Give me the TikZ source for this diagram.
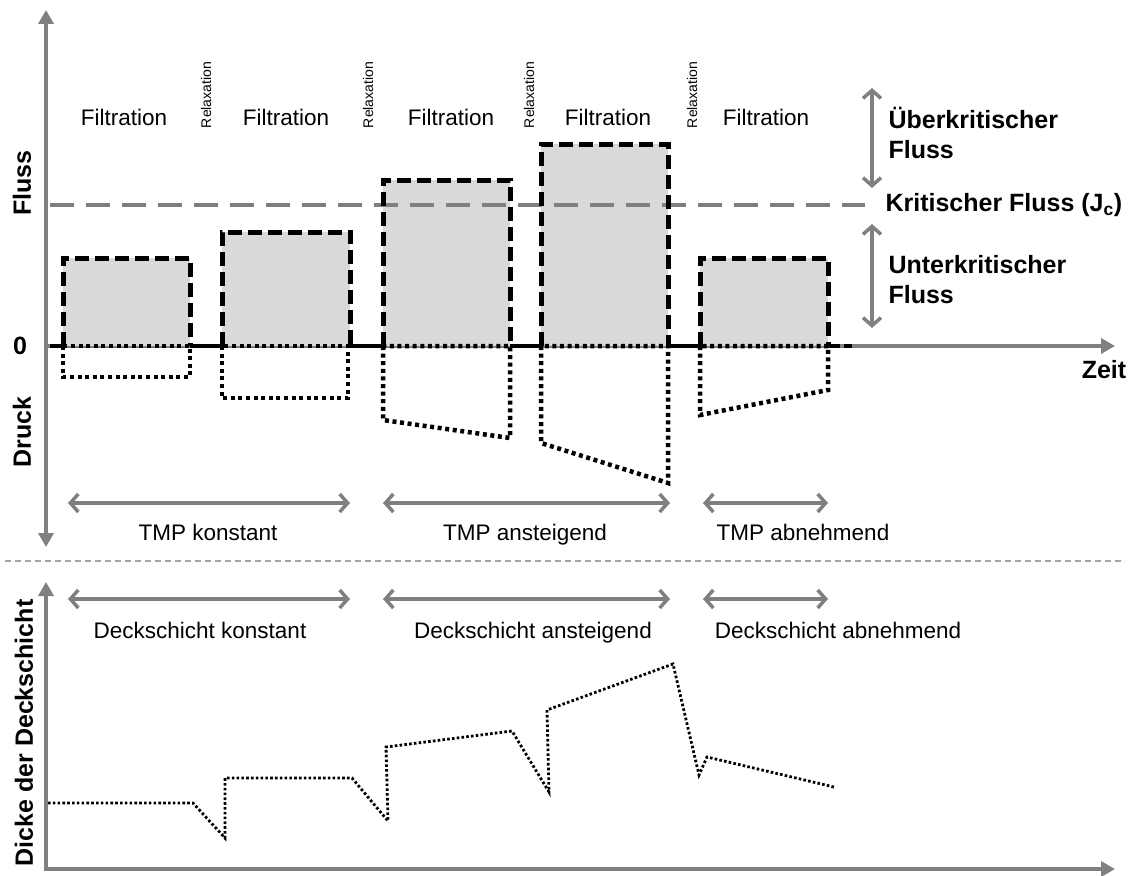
\documentclass[tikz,border=0pt]{standalone}
\usepackage{fontspec}
\setmainfont{Liberation Sans}
\usetikzlibrary{arrows.meta}
\definecolor{axisgray}{RGB}{128,128,128}
\definecolor{fillgray}{RGB}{217,217,217}
\definecolor{sepgray}{RGB}{165,165,165}

\begin{document}
\begin{tikzpicture}[x=1pt,y=-1pt,
  axis/.style={draw=axisgray, line width=4pt},
  tri/.tip={Triangle[length=14pt,width=15pt]},
  barb/.tip={Straight Barb[length=8pt,width=18pt]},
  span/.style={draw=axisgray, line width=3.5pt, barb-barb},
  fluxline/.style={draw=black, line width=5pt, dash pattern=on 14pt off 6pt},
  druckline/.style={draw=black, line width=4.5pt, dash pattern=on 4pt off 3.6pt},
  layerline/.style={draw=black, line width=2.8pt, dash pattern=on 2.6pt off 2.2pt},
  critline/.style={draw=axisgray, line width=4pt, dash pattern=on 24pt off 12pt},
  lbl/.style={font=\fontsize{22.5}{27}\selectfont},
  blbl/.style={font=\fontsize{25}{30}\selectfont\bfseries, align=left},
  relax/.style={font=\fontsize{14}{16}\selectfont, rotate=90},
]
\useasboundingbox (0,0) rectangle (1129,875);

% ---------- upper chart: axes ----------
\coordinate (ytop) at (46,10);
\coordinate (ybot) at (46,547);
\coordinate (x0) at (44,346);
\coordinate (xend) at (1115,346);
\draw[axis, tri-tri] (ybot) -- (ytop);
\draw[axis, -tri] (x0) -- (xend);

\node[blbl] (zero) at (20,346) {0};
\node[blbl] (zeit) at (1104,370) {Zeit};
\node[blbl, rotate=90] (fluss) at (22,183) {Fluss};
\node[blbl, rotate=90] (druck) at (22,432) {Druck};

% ---------- flux blocks (filled) ----------
\foreach \xa/\xb/\yt in {63/190/258, 222/350/232, 383/510/180, 541/668/144, 700/828/258}{
  \fill[fillgray] (\xa,346) rectangle (\xb,\yt);
}

% critical flux level
\coordinate (cA) at (50,205);
\coordinate (cB) at (865,205);
\draw[critline] (cA) -- (cB);

% flux outlines
\foreach \xa/\xb/\yt in {63/190/258, 222/350/232, 383/510/180, 541/668/144, 700/828/258}{
  \draw[fluxline] (\xa,346) -- (\xa,\yt) -- (\xb,\yt) -- (\xb,346);
}

% relaxation pieces on the zero line
\foreach \xa/\xb in {50/63, 190/222, 350/383, 510/541, 668/700}{
  \draw[black, line width=4.5pt] (\xa,346) -- (\xb,346);
}
\draw[black, line width=4.5pt, dash pattern=on 12pt off 4pt] (828,346) -- (852,346);

% pressure outlines (dotted)
\foreach \xa/\xb/\ya/\yb in {63/190/377/377, 222/348/398/398, 383/510/420/438, 541/668/443/483, 700/828/415/390}{
  \draw[druckline] (\xa,346) -- (\xa,\ya) -- (\xb,\yb) -- (\xb,346) -- cycle;
}

% phase labels
\foreach \x/\n in {124/f1, 286/f2, 451/f3, 608/f4, 766/f5}{
  \node[lbl, anchor=base] (\n) at (\x,125) {Filtration};
}
\foreach \x/\n in {206/r1, 368/r2, 529/r3, 692/r4}{
  \node[relax] (\n) at (\x,95) {Relaxation};
}

% flux regions on the right
\coordinate (uA) at (872,88);
\coordinate (uB) at (872,188);
\coordinate (lA) at (872,224);
\coordinate (lB) at (872,328);
\draw[span] (uA) -- (uB);
\draw[span] (lA) -- (lB);
\node[blbl, anchor=west] (ueber) at (885,133) {Überkritischer\\Fluss};
\node[blbl, anchor=west] (krit) at (882,205) {Kritischer Fluss (J\textsubscript{c})};
\node[blbl, anchor=west] (unter) at (885,280) {Unterkritischer\\Fluss};

% TMP spans
\coordinate (t1a) at (68,503);  \coordinate (t1b) at (350,503);
\coordinate (t2a) at (383,503); \coordinate (t2b) at (670,503);
\coordinate (t3a) at (703,503); \coordinate (t3b) at (828,503);
\draw[span] (t1a) -- (t1b);
\draw[span] (t2a) -- (t2b);
\draw[span] (t3a) -- (t3b);
\node[lbl, anchor=base] (tmp1) at (208,540) {TMP konstant};
\node[lbl, anchor=base] (tmp2) at (525,540) {TMP ansteigend};
\node[lbl, anchor=base] (tmp3) at (803,540) {TMP abnehmend};

% separator
\coordinate (sA) at (5,561);
\coordinate (sB) at (1125,561);
\draw[sepgray, line width=1.5pt, dash pattern=on 6pt off 4pt] (sA) -- (sB);

% ---------- lower chart ----------
\coordinate (ly0) at (46,869);
\coordinate (lytop) at (46,582);
\coordinate (lx0) at (44,869);
\coordinate (lxend) at (1115,869);
\draw[axis, -tri] (ly0) -- (lytop);
\draw[axis, -tri] (lx0) -- (lxend);
\node[blbl, rotate=90] (dicke) at (24,733) {Dicke der Deckschicht};

\coordinate (d1a) at (68,599);  \coordinate (d1b) at (350,599);
\coordinate (d2a) at (383,599); \coordinate (d2b) at (670,599);
\coordinate (d3a) at (703,599); \coordinate (d3b) at (828,599);
\draw[span] (d1a) -- (d1b);
\draw[span] (d2a) -- (d2b);
\draw[span] (d3a) -- (d3b);
\node[lbl, anchor=base] (dk1) at (200,638) {Deckschicht konstant};
\node[lbl, anchor=base] (dk2) at (533,638) {Deckschicht ansteigend};
\node[lbl, anchor=base] (dk3) at (838,638) {Deckschicht abnehmend};

% cake layer thickness over time
\draw[layerline] (48,803) -- (193,803) -- (225,838) -- (225,778) -- (352,778)
  -- (388,821) -- (386,747) -- (512,731) -- (549,792) -- (547,710) -- (673,664)
  -- (699,775) -- (707,757) -- (834,787);

\end{tikzpicture}
\end{document}
